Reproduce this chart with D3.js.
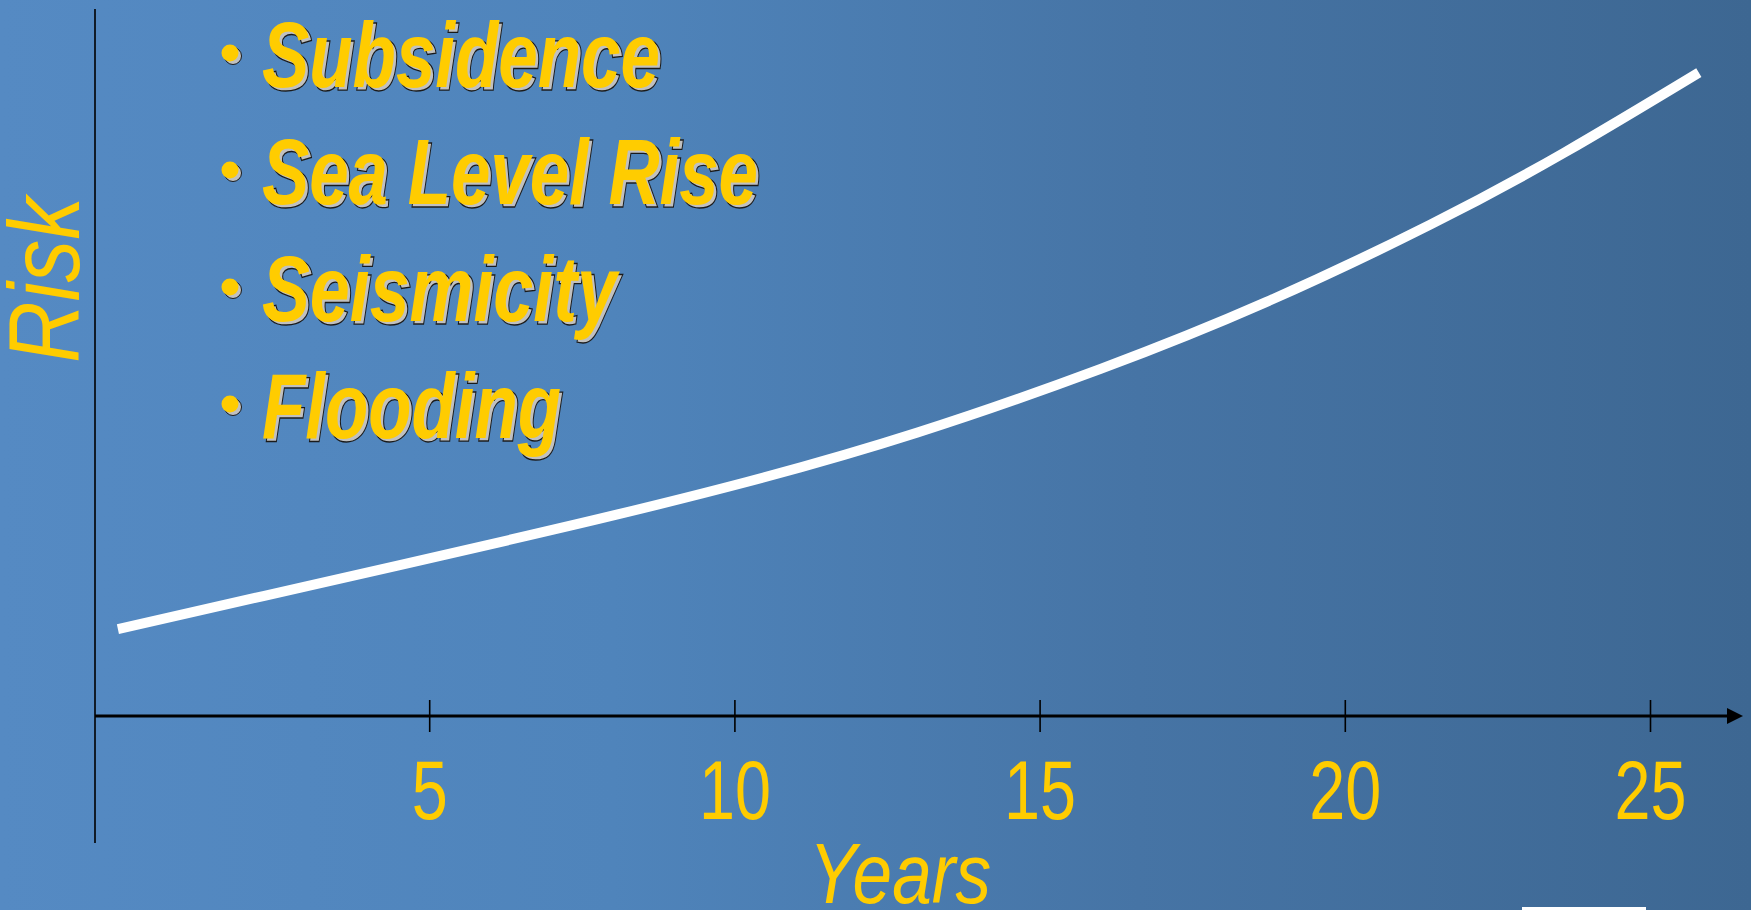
<!DOCTYPE html>
<html>
<head>
<meta charset="utf-8">
<script src="https://cdn.jsdelivr.net/npm/d3@7"></script>
<style>
  html, body { margin: 0; padding: 0; overflow: hidden; background: #4a7db2; }
  text { font-family: "Liberation Sans Narrow", "Arial Narrow", "Liberation Sans", sans-serif; }
</style>
</head>
<body>
<div id="chart"></div>
<script>
let width = 1751, height = 910;

// curve (years, relative risk 0-100)
let years = [-0.1, 2.3, 4.5, 7.4, 10.2, 13.0, 16.0, 18.7, 21.4, 23.6, 25.8];
let risk  = [12.3, 17.0, 21.3, 27.1, 33.1, 40.1, 49.1, 58.5, 69.5, 79.7, 91.0];

let tickYears = [5, 10, 15, 20, 25];
let hazards = ["Subsidence", "Sea Level Rise", "Seismicity", "Flooding"];
let hazardWidths = [398, 496, 355, 299];

let svg = d3.select("#chart").append("svg")
    .attr("width", width)
    .attr("height", height);

let defs = svg.append("defs");
let bg = defs.append("linearGradient")
    .attr("id", "bg")
    .attr("x1", "0%").attr("x2", "100%")
    .attr("y1", "0%").attr("y2", "0%");
bg.append("stop").attr("offset", "0%").attr("stop-color", "#558ac3");
bg.append("stop").attr("offset", "35%").attr("stop-color", "#4f84bb");
bg.append("stop").attr("offset", "65%").attr("stop-color", "#4674a5");
bg.append("stop").attr("offset", "100%").attr("stop-color", "#3d6792");

svg.append("rect")
    .attr("width", width)
    .attr("height", height)
    .attr("fill", "url(#bg)");

let x = d3.scaleLinear()
    .domain([0, 25])
    .range([124, 1650]);

let y = d3.scaleLinear()
    .domain([0, 100])
    .range([716, 9]);

let axisX0 = 95, axisY = y(0);

// y axis (plain line)
svg.append("line")
    .attr("x1", axisX0).attr("x2", axisX0)
    .attr("y1", y(100)).attr("y2", 843)
    .attr("stroke", "#000")
    .attr("stroke-width", 1.6);

// x axis line + arrow
svg.append("line")
    .attr("x1", axisX0).attr("x2", 1730)
    .attr("y1", axisY).attr("y2", axisY)
    .attr("stroke", "#000")
    .attr("stroke-width", 3);

svg.append("path")
    .attr("d", d3.line()([[1727, axisY - 8], [1743, axisY], [1727, axisY + 8]]) + "Z")
    .attr("fill", "#000");

let xAxis = svg.append("g")
    .attr("transform", "translate(0," + axisY + ")")
    .call(d3.axisBottom(x).tickValues(tickYears).tickSizeInner(15).tickSizeOuter(0));

xAxis.select(".domain").remove();
xAxis.selectAll(".tick line")
    .attr("y1", -16)
    .attr("y2", 16)
    .attr("stroke", "#000")
    .attr("stroke-width", 1.6);
xAxis.selectAll(".tick text")
    .attr("y", 103)
    .attr("dy", null)
    .attr("fill", "#ffcc00")
    .attr("font-size", 84)
    .attr("font-family", "'Liberation Sans Narrow', 'Arial Narrow', 'Liberation Sans', sans-serif")
    .attr("textLength", d => String(d).length * 36)
    .attr("lengthAdjust", "spacingAndGlyphs");

// axis titles
svg.append("text")
    .attr("x", 900)
    .attr("y", 903)
    .attr("text-anchor", "middle")
    .attr("font-size", 85)
    .attr("font-style", "italic")
    .attr("fill", "#ffcc00")
    .attr("textLength", 182)
    .attr("lengthAdjust", "spacingAndGlyphs")
    .text("Years");

svg.append("text")
    .attr("transform", "translate(79,280) rotate(-90)")
    .attr("text-anchor", "middle")
    .attr("font-size", 100)
    .attr("font-style", "italic")
    .attr("fill", "#ffcc00")
    .attr("textLength", 166)
    .attr("lengthAdjust", "spacingAndGlyphs")
    .text("Risk");

// risk curve
let line = d3.line()
    .x((d, i) => x(years[i]))
    .y(d => y(d))
    .curve(d3.curveNatural);

svg.append("path")
    .datum(risk)
    .attr("d", line)
    .attr("fill", "none")
    .attr("stroke", "#fff")
    .attr("stroke-width", 10)
    .attr("stroke-linecap", "butt");

// bullet list
let rowY = d3.scalePoint()
    .domain(hazards)
    .range([87, 438]);

let items = svg.selectAll("g.item")
    .data(hazards)
    .enter()
    .append("g")
    .attr("class", "item")
    .attr("transform", d => "translate(0," + rowY(d) + ")");

// shadows
items.append("circle")
    .attr("cx", 233).attr("cy", -31).attr("r", 8.5)
    .attr("fill", "#c0c0c0")
    .attr("stroke", "#1a1a1a")
    .attr("stroke-width", 1);
items.append("text")
    .attr("x", 265).attr("y", 3)
    .attr("font-size", 93)
    .attr("font-weight", "bold")
    .attr("font-style", "italic")
    .attr("fill", "#c0c0c0")
    .attr("stroke", "#1a1a1a")
    .attr("stroke-width", 1.3)
    .attr("textLength", (d, i) => hazardWidths[i])
    .attr("lengthAdjust", "spacingAndGlyphs")
    .text(d => d);

items.append("circle")
    .attr("cx", 230).attr("cy", -34).attr("r", 8.5)
    .attr("fill", "#ffcc00");
items.append("text")
    .attr("x", 262).attr("y", 0)
    .attr("font-size", 93)
    .attr("font-weight", "bold")
    .attr("font-style", "italic")
    .attr("fill", "#ffcc00")
    .attr("textLength", (d, i) => hazardWidths[i])
    .attr("lengthAdjust", "spacingAndGlyphs")
    .text(d => d);

// edge of a logo peeking in at the bottom
svg.append("rect")
    .attr("x", 1522).attr("y", 907)
    .attr("width", 124).attr("height", 3)
    .attr("fill", "#fff");
</script>
</body>
</html>
